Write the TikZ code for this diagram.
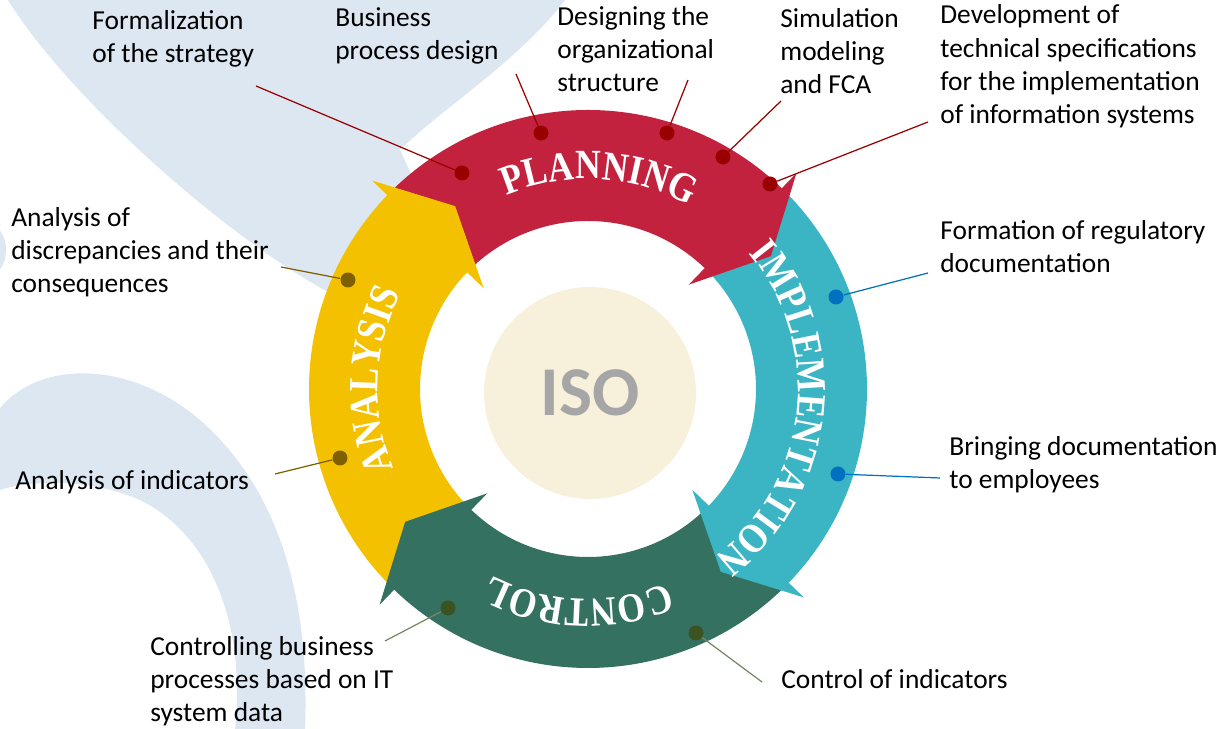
\documentclass[tikz,border=0pt]{standalone}
\usepackage{fontspec}
\setmainfont{Carlito}
\newfontfamily\ringfont{Liberation Serif}[FakeStretch=0.86]
\usepackage{tikz}
\usetikzlibrary{
    decorations.text,
    positioning
}
\definecolor{planred}{HTML}{C3223F}
\definecolor{impteal}{HTML}{3BB4C4}
\definecolor{ctrlgreen}{HTML}{357160}
\definecolor{anayellow}{HTML}{F4C100}
\definecolor{reddot}{HTML}{990000}
\definecolor{bluedot}{HTML}{0070C0}
\definecolor{greendot}{HTML}{3B5323}
\definecolor{yellowdot}{HTML}{7F6000}
\definecolor{bgblue}{HTML}{DDE7F1}
\definecolor{isobeige}{HTML}{F7F0DB}
\definecolor{isogray}{HTML}{A6A6A6}
\newcommand{\ringstyle}{\ringfont\bfseries\fontsize{23.6pt}{26pt}\selectfont\color{white}}

\begin{document}
\begin{tikzpicture}[x=0.02cm, y=0.02cm,
    lbl/.style={font=\fontsize{15.6pt}{19pt}\selectfont, align=left, anchor=base west, inner sep=0pt},
    dot/.style={circle, fill=#1, inner sep=0pt, minimum size=0.3cm},
    lead/.style={#1, line width=0.7pt}]
                        \useasboundingbox (0, 0) rectangle (1225, 729);
                        % background
                        \begin{scope}
                        \clip (0, 0) rectangle (1225, 729);
                        \fill[bgblue] (8, 729) -- (565, 729) .. controls (520, 669) and (440, 619) .. (400, 579)
                            -- (430, 514) -- (345, 429) -- (330, 436) .. controls (230, 489) and (70, 629) .. (8, 729) -- cycle;
                        \fill[bgblue] (0, 321) .. controls (40, 369) and (130, 369) .. (200, 309)
                            .. controls (280, 239) and (310, 129) .. (305, 0) -- (235, 0)
                            .. controls (245, 89) and (220, 189) .. (140, 229)
                            .. controls (90, 251) and (30, 249) .. (0, 239) -- cycle;
                        \fill[bgblue] (-12, 479) ellipse (18 and 26);
                        \end{scope}
                        % ring
                        \begin{scope}[shift={(588, 340)}]
                        \fill[planred] (135:279) arc[start angle=135, end angle=44, radius=279] -- (44:168) arc[start angle=44, end angle=135, radius=168] -- cycle;
                        \fill[impteal] (45:279) arc[start angle=45, end angle=-46, radius=279] -- (-46:168) arc[start angle=-46, end angle=45, radius=168] -- cycle;
                        \fill[ctrlgreen] (-45:279) arc[start angle=-45, end angle=-136, radius=279] -- (-136:168) arc[start angle=-136, end angle=-45, radius=168] -- cycle;
                        \fill[anayellow] (-135:279) arc[start angle=-135, end angle=-226, radius=279] -- (-226:168) arc[start angle=-226, end angle=-135, radius=168] -- cycle;
                        \fill[planred] (46:300) -- (36:226) -- (46:145) -- cycle;
                        \fill[impteal] (-44:300) -- (-54:226) -- (-44:145) -- cycle;
                        \fill[ctrlgreen] (-134:300) -- (-144:226) -- (-134:145) -- cycle;
                        \fill[anayellow] (136:300) -- (126:226) -- (136:145) -- cycle;
                        \path[decorate, decoration={text along path, text={|\ringstyle|PLANNING}, text align=center}]
                            (127:210) arc[start angle=127, end angle=47, radius=210];
                        \path[decorate, decoration={text along path, text={|\ringstyle|IMPLEMENTATION}, text align=center}]
                            (50:210) arc[start angle=50, end angle=-63, radius=210];
                        \path[decorate, decoration={text along path, text={|\ringstyle|CONTROL}, text align=center}]
                            (-50:210) arc[start angle=-50, end angle=-135, radius=210];
                        \path[decorate, decoration={text along path, text={|\ringstyle|ANALYSIS}, text align=center}]
                            (220:210) arc[start angle=220, end angle=135, radius=210];
                        \end{scope}
                        \node[circle, fill=isobeige, minimum size=4.24cm, text=isogray, font=\bfseries\fontsize{39.8pt}{44pt}\selectfont] (iso) at (590, 336) {ISO};
                        % labels (placed at the baseline of their last line)
                        \node[lbl] (strat) at (92, 666) {Formalization\\of the strategy};
                        \node[lbl] (proc) at (335, 669) {Business\\process design};
                        \node[lbl] (orgs) at (557, 637) {Designing the\\organizational\\structure};
                        \node[lbl] (simu) at (780, 635) {Simulation\\modeling\\and FCA};
                        \node[lbl] (spec) at (940, 605) {Development of\\technical specifications\\for the implementation\\of information systems};
                        \node[lbl] (regd) at (940, 456) {Formation of regulatory\\documentation};
                        \node[lbl] (empl) at (949, 240) {Bringing documentation\\to employees};
                        \node[lbl] (ctrl) at (781, 40) {Control of indicators};
                        \node[lbl] (itsd) at (150, 7) {Controlling business\\processes based on IT\\system data};
                        \node[lbl] (indi) at (15, 239) {Analysis of indicators};
                        \node[lbl] (disc) at (11, 436) {Analysis of\\discrepancies and their\\consequences};
                        % dots and leaders
                        \node[dot=reddot] (dstrat) at (462, 556) {};
                        \node[dot=reddot] (dproc) at (541, 596) {};
                        \node[dot=reddot] (dorgs) at (667, 596) {};
                        \node[dot=reddot] (dsimu) at (723, 572) {};
                        \node[dot=reddot] (dspec) at (770, 545) {};
                        \node[dot=bluedot] (dregd) at (836, 432) {};
                        \node[dot=bluedot] (dempl) at (838, 255) {};
                        \node[dot=greendot] (ditsd) at (448, 121) {};
                        \node[dot=greendot] (dctrl) at (696, 96) {};
                        \node[dot=yellowdot] (ddisc) at (348, 449) {};
                        \node[dot=yellowdot] (dindi) at (340, 271) {};
                        \coordinate (estrat) at (256, 643);
                        \coordinate (eproc) at (516, 655);
                        \coordinate (eorgs) at (688, 649);
                        \coordinate (esimu) at (781, 628);
                        \coordinate (espec) at (928, 607);
                        \coordinate (eregd) at (928, 456);
                        \coordinate (eempl) at (940, 251);
                        \coordinate (eitsd) at (385, 88);
                        \coordinate (ectrl) at (762, 47);
                        \coordinate (edisc) at (281, 462);
                        \coordinate (eindi) at (275, 255);
                        \draw[lead=reddot] (dstrat) -- (estrat);
                        \draw[lead=reddot] (dproc) -- (eproc);
                        \draw[lead=reddot] (dorgs) -- (eorgs);
                        \draw[lead=reddot] (dsimu) -- (esimu);
                        \draw[lead=reddot] (dspec) -- (espec);
                        \draw[lead=bluedot] (dregd) -- (eregd);
                        \draw[lead=bluedot] (dempl) -- (eempl);
                        \draw[lead=greendot!70!white] (ditsd) -- (eitsd);
                        \draw[lead=greendot!70!white] (dctrl) -- (ectrl);
                        \draw[lead=yellowdot] (ddisc) -- (edisc);
                        \draw[lead=yellowdot] (dindi) -- (eindi);
                    \end{tikzpicture}
\end{document}
